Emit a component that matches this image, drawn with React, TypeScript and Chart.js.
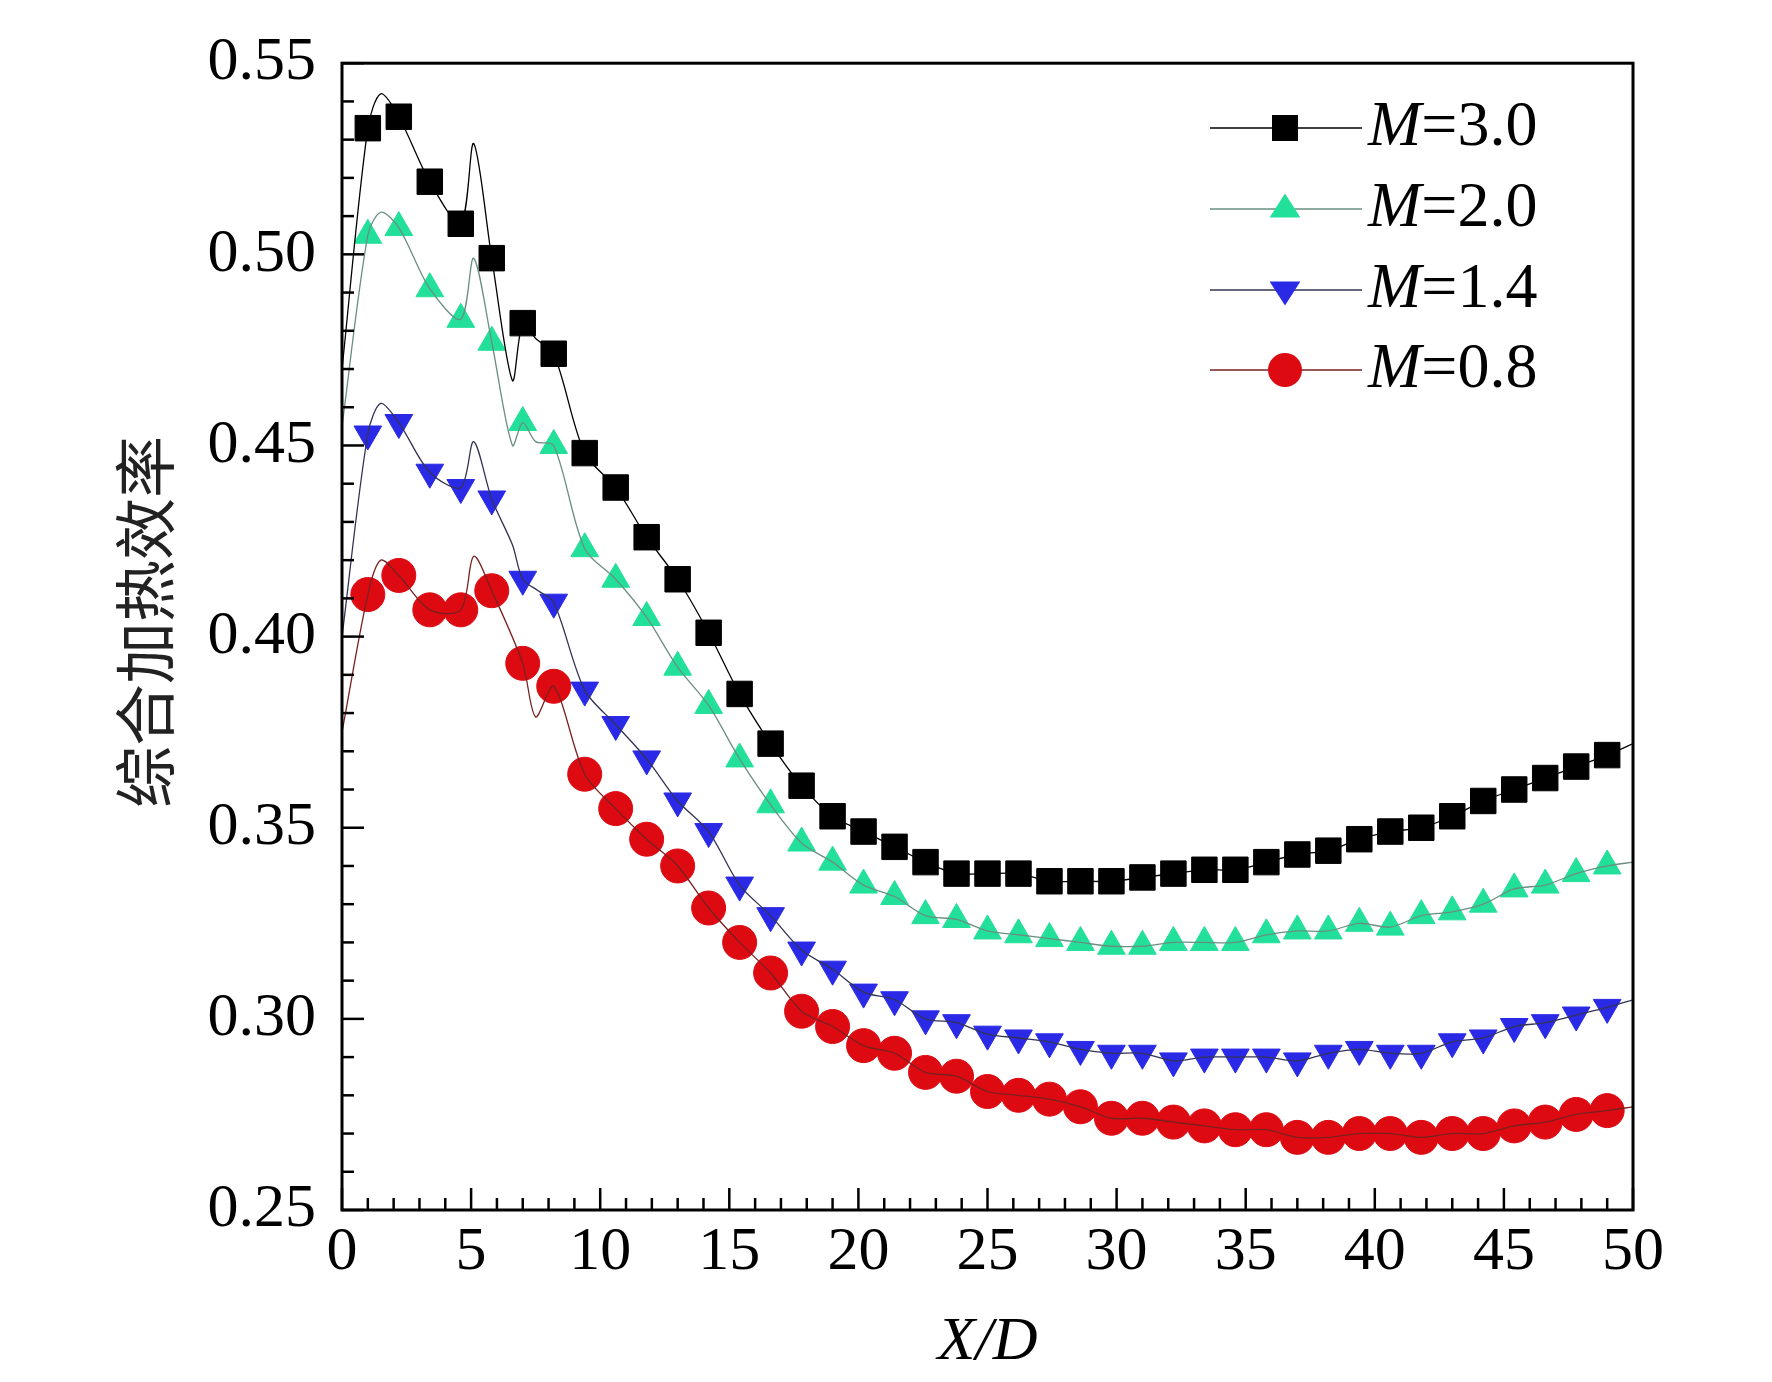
import React, { useEffect, useRef } from "react";
import { Chart, registerables } from "chart.js";
Chart.register(...registerables);

const markerX = [1, 2.2, 3.4, 4.6, 5.8, 7, 8.2, 9.4, 10.6, 11.8, 13, 14.2, 15.4, 16.6, 17.8, 19, 20.2, 21.4, 22.6, 23.8, 25, 26.2, 27.4, 28.6, 29.8, 31, 32.2, 33.4, 34.6, 35.8, 37, 38.2, 39.4, 40.6, 41.8, 43, 44.2, 45.4, 46.6, 47.8, 49];
const m30 = [0.533, 0.536, 0.519, 0.508, 0.499, 0.482, 0.474, 0.448, 0.439, 0.426, 0.415, 0.401, 0.385, 0.372, 0.361, 0.353, 0.349, 0.345, 0.341, 0.338, 0.338, 0.338, 0.336, 0.336, 0.336, 0.337, 0.338, 0.339, 0.339, 0.341, 0.343, 0.344, 0.347, 0.349, 0.350, 0.353, 0.357, 0.360, 0.363, 0.366, 0.369];
const m20 = [0.505, 0.507, 0.491, 0.483, 0.477, 0.456, 0.450, 0.423, 0.415, 0.405, 0.392, 0.382, 0.368, 0.356, 0.346, 0.341, 0.335, 0.332, 0.327, 0.326, 0.323, 0.322, 0.321, 0.320, 0.319, 0.319, 0.320, 0.320, 0.320, 0.322, 0.323, 0.323, 0.325, 0.324, 0.327, 0.328, 0.330, 0.334, 0.335, 0.338, 0.340];
const m14 = [0.453, 0.456, 0.443, 0.439, 0.436, 0.415, 0.409, 0.386, 0.377, 0.368, 0.357, 0.349, 0.335, 0.327, 0.318, 0.313, 0.307, 0.305, 0.300, 0.299, 0.296, 0.295, 0.294, 0.292, 0.291, 0.291, 0.289, 0.290, 0.290, 0.290, 0.289, 0.291, 0.292, 0.291, 0.291, 0.294, 0.295, 0.298, 0.299, 0.301, 0.303];
const m08 = [0.411, 0.416, 0.407, 0.407, 0.412, 0.393, 0.387, 0.364, 0.355, 0.347, 0.340, 0.329, 0.320, 0.312, 0.302, 0.298, 0.293, 0.291, 0.286, 0.285, 0.281, 0.280, 0.279, 0.277, 0.274, 0.274, 0.273, 0.272, 0.271, 0.271, 0.269, 0.269, 0.270, 0.270, 0.269, 0.270, 0.270, 0.272, 0.273, 0.275, 0.276];
// extra line-only points (peaks between markers)
const e30: [number, number][] = [[0, 0.47], [1.5, 0.542], [5.1, 0.529], [6.6, 0.467], [7.5, 0.478], [50, 0.372]];
const e20: [number, number][] = [[0, 0.455], [1.5, 0.511], [5.1, 0.499], [6.6, 0.45], [7.5, 0.451], [50, 0.341]];
const e14: [number, number][] = [[0, 0.40], [1.5, 0.461], [5.1, 0.451], [6.6, 0.424], [7.6, 0.412], [50, 0.305]];
const e08: [number, number][] = [[0, 0.375], [1.5, 0.420], [5.1, 0.421], [7.5, 0.379], [50, 0.277]];
const labels = ["M=3.0", "M=2.0", "M=1.4", "M=0.8"];

const serif = "'Liberation Serif', 'DejaVu Serif', serif";

function merged(vals: number[], extra: [number, number][]) {
  const pts = markerX.map((x, i) => ({ x, y: vals[i] })).concat(extra.map(([x, y]) => ({ x, y })));
  return pts.sort((a, b) => a.x - b.x);
}

const specs = [
  { vals: m30, extra: e30, color: "#000000", line: "#000000", style: "rect", r: 18, lr: 13 },
  { vals: m20, extra: e20, color: "#22e09a", line: "#6a8f80", style: "triangle", r: 16, lr: 14 },
  { vals: m14, extra: e14, color: "#2a2ae6", line: "#333355", style: "triangle", r: 16, rot: 180, lr: 14 },
  { vals: m08, extra: e08, color: "#dd0a12", line: "#7a2020", style: "circle", r: 17, lr: 17 },
];

export default function App() {
  const ref = useRef<HTMLCanvasElement>(null);
  useEffect(() => {
    const datasets: any[] = [];
    specs.forEach((s) => {
      datasets.push({ data: merged(s.vals, s.extra), showLine: true, borderColor: s.line, borderWidth: 1.3, pointRadius: 0, tension: 0.3, fill: false });
    });
    specs.forEach((s) => {
      datasets.push({ data: markerX.map((x, i) => ({ x, y: s.vals[i] })), showLine: false, pointStyle: s.style, pointRadius: s.r, pointRotation: s.rot || 0, backgroundColor: s.color, borderColor: s.color, borderWidth: 1 });
    });
    const deco = {
      id: "deco",
      afterDraw(c: any) {
        const ctx = c.ctx;
        const { left, right, top, bottom } = c.chartArea;
        const xs = c.scales.x, ys = c.scales.y;
        ctx.save();
        ctx.strokeStyle = "#000";
        ctx.lineWidth = 3;
        ctx.strokeRect(left, top, right - left, bottom - top);
        ctx.lineWidth = 2.5;
        for (let v = 0; v <= 50; v++) {
          const px = xs.getPixelForValue(v);
          const len = v % 5 === 0 ? 22 : 12;
          ctx.beginPath(); ctx.moveTo(px, bottom); ctx.lineTo(px, bottom - len); ctx.stroke();
        }
        for (let k = 0; k <= 30; k++) {
          const py = ys.getPixelForValue(0.25 + k * 0.01);
          const len = k % 5 === 0 ? 22 : 12;
          ctx.beginPath(); ctx.moveTo(left, py); ctx.lineTo(left + len, py); ctx.stroke();
        }
        // legend
        const rows = [128, 209, 290, 370];
        rows.forEach((y, i) => {
          const s = specs[i];
          ctx.strokeStyle = s.line; ctx.lineWidth = 1.5;
          ctx.beginPath(); ctx.moveTo(1210, y); ctx.lineTo(1362, y); ctx.stroke();
          ctx.fillStyle = s.color;
          const cx = 1285, r = s.lr;
          ctx.beginPath();
          if (s.style === "rect") ctx.rect(cx - r, y - r, 2 * r, 2 * r);
          else if (s.style === "circle") ctx.arc(cx, y, r, 0, Math.PI * 2);
          else if (s.rot) { ctx.moveTo(cx - r * 1.1, y - r * 0.6); ctx.lineTo(cx + r * 1.1, y - r * 0.6); ctx.lineTo(cx, y + r * 1.1); }
          else { ctx.moveTo(cx - r * 1.1, y + r * 0.6); ctx.lineTo(cx + r * 1.1, y + r * 0.6); ctx.lineTo(cx, y - r * 1.1); }
          ctx.fill();
          ctx.fillStyle = "#000"; ctx.textBaseline = "middle"; ctx.textAlign = "left";
          ctx.font = `italic 64px ${serif}`;
          ctx.fillText("M", 1368, y);
          const w = ctx.measureText("M").width;
          ctx.font = `64px ${serif}`;
          ctx.fillText(labels[i].slice(1), 1368 + w, y);
        });
        // axis titles
        ctx.fillStyle = "#000"; ctx.textAlign = "center"; ctx.textBaseline = "middle";
        ctx.font = `italic 62px ${serif}`;
        ctx.fillText("X/D", (left + right) / 2, 1343);
        ctx.translate(145, 622); ctx.rotate(-Math.PI / 2);
        ctx.font = `62px 'Noto Sans CJK SC', sans-serif`;
        ctx.fillStyle = "#222";
        ctx.fillText("综合加热效率", 0, 0);
        ctx.restore();
      },
    };
    const chart = new Chart(ref.current!, {
      type: "scatter",
      data: { datasets },
      plugins: [deco],
      options: {
        animation: false, responsive: false,
        layout: { padding: { top: 0, right: 139, left: 0, bottom: 0 } },
        plugins: { legend: { display: false }, tooltip: { enabled: false } },
        scales: {
          x: {
            type: "linear", min: 0, max: 50,
            ticks: { stepSize: 5, color: "#000", font: { family: serif, size: 62 }, padding: 6 },
            grid: { display: false, drawTicks: false }, border: { display: false },
            afterFit: (s: any) => { s.height = 172; },
          },
          y: {
            type: "linear", min: 0.25, max: 0.55,
            ticks: { stepSize: 0.05, color: "#000", font: { family: serif, size: 62 }, padding: 26, callback: (v: any) => Number(v).toFixed(2) },
            grid: { display: false, drawTicks: false }, border: { display: false },
            afterFit: (s: any) => { s.width = 342; },
          },
        },
      },
    });
    return () => chart.destroy();
  }, []);
  return (
    <div style={{ position: "absolute", left: 0, top: 0, width: 1772, height: 1382, background: "#fff" }}>
      <canvas ref={ref} width={1772} height={1382} style={{ width: 1772, height: 1382 }} />
    </div>
  );
}
